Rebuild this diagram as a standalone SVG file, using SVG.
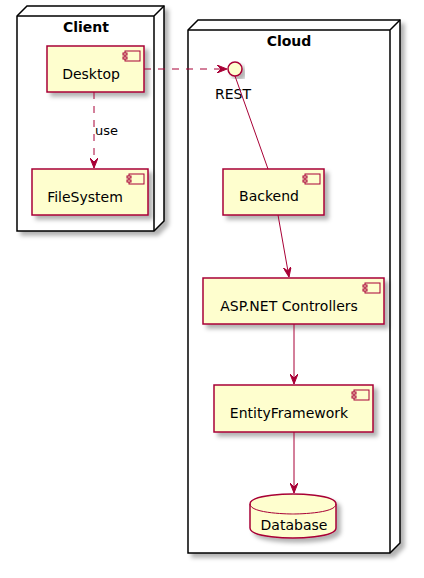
<svg xmlns="http://www.w3.org/2000/svg" width="424" height="578" viewBox="0 0 424 578">
<style>
.node{fill:#FFFFFF;stroke:#000000;stroke-width:1.5}
.nl{fill:none;stroke:#000000;stroke-width:1.5}
.comp{fill:#FEFECE;stroke:#A80036;stroke-width:1.5}
.icon{fill:#FEFECE;stroke:#A80036;stroke-width:1}
.lbl{font-family:"DejaVu Sans",sans-serif;font-size:14px;fill:#000000}
.title{font-family:"DejaVu Sans",sans-serif;font-size:14px;font-weight:bold;fill:#000000}
.edge{fill:none;stroke:#A80036;stroke-width:1}
.dash{stroke-dasharray:7,7}
.el{font-family:"DejaVu Sans",sans-serif;font-size:13px;fill:#000000}
</style>
<defs>
<filter id="sh" x="-10%" y="-10%" width="130%" height="130%">
<feDropShadow dx="4" dy="4" stdDeviation="2" flood-color="#000000" flood-opacity="0.3"/>
</filter>
<marker id="ah" viewBox="0 0 10 8" refX="10" refY="4" markerWidth="10" markerHeight="8" markerUnits="userSpaceOnUse" orient="auto">
<path d="M0,0 L10,4 L0,8 L4,4 Z" fill="#A80036" stroke="#A80036" stroke-width="1"/>
</marker>
</defs>
<rect width="424" height="578" fill="#FFFFFF"/>

<g id="Client">
<polygon class="node" filter="url(#sh)" points="17,16 27,6 164,6 164,221 154,231 17,231"/>
<path class="nl" d="M154,16 L164,6 M17,16 L154,16 M154,16 L154,231"/>
<text class="title" x="86" y="32" text-anchor="middle">Client</text>
</g>

<g id="Cloud">
<polygon class="node" filter="url(#sh)" points="188,30 198,20 400,20 400,543 390,553 188,553"/>
<path class="nl" d="M390,30 L400,20 M188,30 L390,30 M390,30 L390,553"/>
<text class="title" x="289" y="46" text-anchor="middle">Cloud</text>
</g>

<g id="Desktop">
<rect class="comp" filter="url(#sh)" x="47" y="46" width="97" height="46"/>
<rect class="icon" x="125" y="51" width="15" height="10"/>
<rect class="icon" x="123" y="53" width="4" height="2"/>
<rect class="icon" x="123" y="57" width="4" height="2"/>
<text class="lbl" x="91" y="79" text-anchor="middle">Desktop</text>
</g>

<g id="FileSystem">
<rect class="comp" filter="url(#sh)" x="32" y="169" width="116" height="46"/>
<rect class="icon" x="129" y="174" width="15" height="10"/>
<rect class="icon" x="127" y="176" width="4" height="2"/>
<rect class="icon" x="127" y="180" width="4" height="2"/>
<text class="lbl" x="85" y="202" text-anchor="middle">FileSystem</text>
</g>

<g id="REST">
<circle class="comp" filter="url(#sh)" cx="235" cy="69" r="7"/>
<text class="lbl" x="233" y="99" text-anchor="middle">REST</text>
</g>

<g id="Backend">
<rect class="comp" filter="url(#sh)" x="223" y="169" width="101" height="46"/>
<rect class="icon" x="305" y="174" width="15" height="10"/>
<rect class="icon" x="303" y="176" width="4" height="2"/>
<rect class="icon" x="303" y="180" width="4" height="2"/>
<text class="lbl" x="269" y="201" text-anchor="middle">Backend</text>
</g>

<g id="ASPNETControllers">
<rect class="comp" filter="url(#sh)" x="203" y="278" width="181" height="46"/>
<rect class="icon" x="365" y="283" width="15" height="10"/>
<rect class="icon" x="363" y="285" width="4" height="2"/>
<rect class="icon" x="363" y="289" width="4" height="2"/>
<text class="lbl" x="289" y="311" text-anchor="middle">ASP.NET Controllers</text>
</g>

<g id="EntityFramework">
<rect class="comp" filter="url(#sh)" x="214" y="385" width="159" height="47"/>
<rect class="icon" x="354" y="390" width="15" height="10"/>
<rect class="icon" x="352" y="392" width="4" height="2"/>
<rect class="icon" x="352" y="396" width="4" height="2"/>
<text class="lbl" x="289" y="418" text-anchor="middle">EntityFramework</text>
</g>

<g id="Database">
<path class="comp" filter="url(#sh)" d="M250,504 C250,494 293,494 293,494 C293,494 336,494 336,504 L336,528 C336,538 293,538 293,538 C293,538 250,538 250,528 Z"/>
<path class="edge" stroke-width="1.5" d="M250,504 C250,514 293,514 293,514 C293,514 336,514 336,504"/>
<text class="lbl" x="294" y="530" text-anchor="middle">Database</text>
</g>

<g id="connectors">
<path class="edge dash" d="M144,69 L227,69" marker-end="url(#ah)"/>
<path class="edge dash" d="M94,92 L94,168" marker-end="url(#ah)"/>
<text class="el" x="95" y="135">use</text>
<path class="edge" d="M235,76 L268,169"/>
<path class="edge" d="M278,215 L289,277" marker-end="url(#ah)"/>
<path class="edge" d="M294,324 L294,384" marker-end="url(#ah)"/>
<path class="edge" d="M294,432 L294,493" marker-end="url(#ah)"/>
</g>
</svg>
